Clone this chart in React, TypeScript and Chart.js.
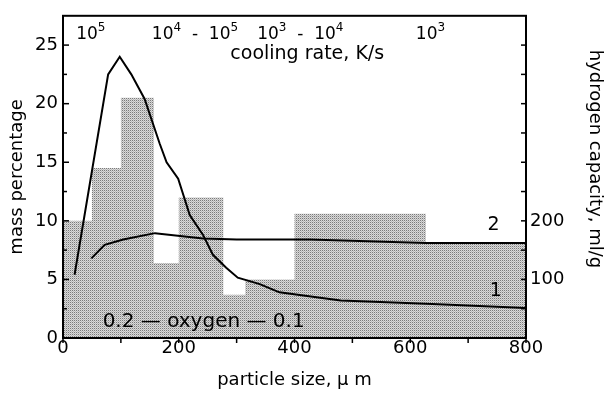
import React, { useEffect, useRef } from "react";
import { Chart, registerables } from "chart.js";

Chart.register(...registerables);

// Histogram of mass percentage (bin left edges, last edge closes the final bin)
const binEdges = [0, 50, 100, 157, 200, 277, 315, 400, 627, 800];
const binMass = [10, 14.5, 20.5, 6.4, 12, 3.7, 5, 10.6, 8.1];

// Curve 1 (mass percentage axis)
const curve1X = [20, 78, 98, 118, 141, 167, 179, 199, 219, 242, 259, 282, 302, 340, 374, 409, 480, 560, 638, 800];
const curve1Y = [5.4, 22.5, 24.0, 22.5, 20.4, 16.6, 15.0, 13.6, 10.5, 8.8, 7.1, 6.0, 5.15, 4.6, 3.9, 3.67, 3.2, 3.05, 2.9, 2.55];

// Curve 2 (hydrogen capacity, ml/g)
const curve2X = [49, 72, 104, 159, 242, 300, 426, 627, 800];
const curve2Y = [136, 159, 168, 179, 170, 168, 168, 162, 162];

// Axis ticks
const xTicks = [0, 200, 400, 600, 800];
const yTicks = [0, 5, 10, 15, 20, 25];
const y1Labels = [100, 200];

// Cooling-rate annotations along the top (x = particle size they sit over)
const coolingLabels = ["10^5", "10^4  -  10^5", "10^3  -  10^4", "10^3"];
const coolingX = [48, 228, 410, 635];

const FONT = "'DejaVu Sans', 'Open Sans', sans-serif";

export default function App() {
  const ref = useRef<HTMLCanvasElement>(null);

  useEffect(() => {
    const canvas = ref.current!;
    const pc = document.createElement("canvas");
    pc.width = 2;
    pc.height = 2;
    const pctx = pc.getContext("2d")!;
    const px = [
      ["#7a7a7a", "#d6d6d6"],
      ["#dcdcdc", "#b8b8b8"],
    ];
    for (let r = 0; r < 2; r++)
      for (let c = 0; c < 2; c++) {
        pctx.fillStyle = px[r][c];
        pctx.fillRect(c, r, 1, 1);
      }
    const pattern = canvas.getContext("2d")!.createPattern(pc, "repeat")!;

    const histData = binEdges.map((x, i) => ({ x, y: binMass[Math.min(i, binMass.length - 1)] }));
    const c1 = curve1X.map((x, i) => ({ x, y: curve1Y[i] }));
    const c2 = curve2X.map((x, i) => ({ x, y: curve2Y[i] }));

    const drawPower = (ctx: CanvasRenderingContext2D, text: string, cx: number, baseY: number) => {
      const parts: { t: string; sup: boolean }[] = [];
      let i = 0;
      let buf = "";
      while (i < text.length) {
        if (text[i] === "^") {
          if (buf) parts.push({ t: buf, sup: false });
          buf = "";
          parts.push({ t: text[i + 1], sup: true });
          i += 2;
        } else {
          buf += text[i];
          i++;
        }
      }
      if (buf) parts.push({ t: buf, sup: false });
      const big = `17px ${FONT}`;
      const small = `12px ${FONT}`;
      let total = 0;
      for (const p of parts) {
        ctx.font = p.sup ? small : big;
        total += ctx.measureText(p.t).width;
      }
      let x = cx - total / 2;
      ctx.textAlign = "left";
      ctx.textBaseline = "alphabetic";
      for (const p of parts) {
        ctx.font = p.sup ? small : big;
        ctx.fillText(p.t, x, p.sup ? baseY - 8 : baseY);
        x += ctx.measureText(p.t).width;
      }
    };

    const decor = {
      id: "decor",
      afterDraw(chart: any) {
        const { ctx, chartArea, scales } = chart;
        const { left, right, top, bottom } = chartArea;
        const { x, y, y1 } = scales;
        ctx.save();
        ctx.strokeStyle = "#000";
        ctx.fillStyle = "#000";
        ctx.lineWidth = 2;
        ctx.strokeRect(left, top, right - left, bottom - top);
        ctx.lineWidth = 1.5;
        const line = (a: number, b: number, c: number, d: number) => {
          ctx.beginPath();
          ctx.moveTo(a, b);
          ctx.lineTo(c, d);
          ctx.stroke();
        };
        for (let v = 2.5; v <= 25; v += 2.5) {
          const py = y.getPixelForValue(v);
          line(left, py, left + (v % 5 === 0 ? 6 : 4), py);
        }
        for (let v = 50; v <= 500; v += 50) {
          const py = y1.getPixelForValue(v);
          line(right - 5, py, right, py);
        }
        for (let v = 0; v <= 800; v += 100) {
          const pxv = x.getPixelForValue(v);
          line(pxv, bottom, pxv, bottom + 5);
        }
        // cooling rate annotations
        const capY = y.getPixelForValue(25.55);
        coolingLabels.forEach((t, i) => drawPower(ctx, t, x.getPixelForValue(coolingX[i]), capY));
        ctx.font = `19px ${FONT}`;
        ctx.textAlign = "center";
        ctx.textBaseline = "alphabetic";
        ctx.fillText("cooling rate, K/s", x.getPixelForValue(422), y.getPixelForValue(23.85));
        // curve labels
        ctx.font = `19px ${FONT}`;
        ctx.textBaseline = "middle";
        ctx.fillText("2", x.getPixelForValue(744), y.getPixelForValue(9.6));
        ctx.fillText("1", x.getPixelForValue(748), y.getPixelForValue(4.0));
        ctx.font = `20px ${FONT}`;
        ctx.fillText("0.2 \u2014 oxygen \u2014 0.1", x.getPixelForValue(243), y.getPixelForValue(1.35));
        // right axis title
        ctx.font = `18px ${FONT}`;
        ctx.translate(595, 159);
        ctx.rotate(Math.PI / 2);
        ctx.textAlign = "center";
        ctx.textBaseline = "middle";
        ctx.fillText("hydrogen capacity, ml/g", 0, 0);
        ctx.restore();
      },
    };

    const tickFont = { family: FONT, size: 18 };
    const chart = new Chart(canvas, {
      type: "line",
      data: {
        datasets: [
          {
            label: "mass",
            data: histData,
            stepped: "before",
            fill: "origin",
            backgroundColor: pattern,
            borderWidth: 0,
            borderColor: "rgba(0,0,0,0)",
            pointRadius: 0,
            yAxisID: "y",
            order: 3,
          } as any,
          {
            label: "1",
            data: c1,
            borderColor: "#000",
            borderWidth: 2,
            pointRadius: 0,
            fill: false,
            tension: 0,
            yAxisID: "y",
            order: 1,
          },
          {
            label: "2",
            data: c2,
            borderColor: "#000",
            borderWidth: 2,
            pointRadius: 0,
            fill: false,
            tension: 0,
            yAxisID: "y1",
            order: 2,
          },
        ],
      },
      options: {
        animation: false,
        responsive: false,
        layout: { padding: { top: 11, left: 0, right: 0, bottom: 0 } },
        plugins: { legend: { display: false }, tooltip: { enabled: false } },
        scales: {
          x: {
            type: "linear",
            min: 0,
            max: 800,
            afterBuildTicks: (s: any) => {
              s.ticks = xTicks.map((v) => ({ value: v }));
            },
            ticks: { font: tickFont, color: "#000", padding: 0, maxRotation: 0, autoSkip: false },
            grid: { display: false, drawTicks: false },
            border: { display: false },
            title: {
              display: true,
              text: "particle size, \u03bc m",
              font: { family: FONT, size: 18 },
              color: "#000",
              padding: { top: 0, bottom: 4 },
            },
            afterFit: (s: any) => {
              s.height = 57;
            },
          },
          y: {
            type: "linear",
            position: "left",
            min: 0,
            max: 27.5,
            afterBuildTicks: (s: any) => {
              s.ticks = yTicks.map((v) => ({ value: v }));
            },
            ticks: { font: tickFont, color: "#000", padding: 5, autoSkip: false },
            grid: { display: false, drawTicks: false },
            border: { display: false },
            title: {
              display: true,
              text: "mass percentage",
              font: { family: FONT, size: 18 },
              color: "#000",
              padding: { top: 7, bottom: 0 },
            },
            afterFit: (s: any) => {
              s.width = 63;
            },
          },
          y1: {
            type: "linear",
            position: "right",
            min: 0,
            max: 550,
            afterBuildTicks: (s: any) => {
              s.ticks = y1Labels.map((v) => ({ value: v }));
            },
            ticks: { font: tickFont, color: "#000", padding: 4, autoSkip: false },
            grid: { display: false, drawTicks: false },
            border: { display: false },
            afterFit: (s: any) => {
              s.width = 81;
            },
          },
        },
      },
      plugins: [decor],
    });
    return () => chart.destroy();
  }, []);

  return (
    <div style={{ position: "absolute", left: 0, top: 0, width: 607, height: 395, background: "#fff" }}>
      <canvas ref={ref} width={607} height={395} />
    </div>
  );
}
